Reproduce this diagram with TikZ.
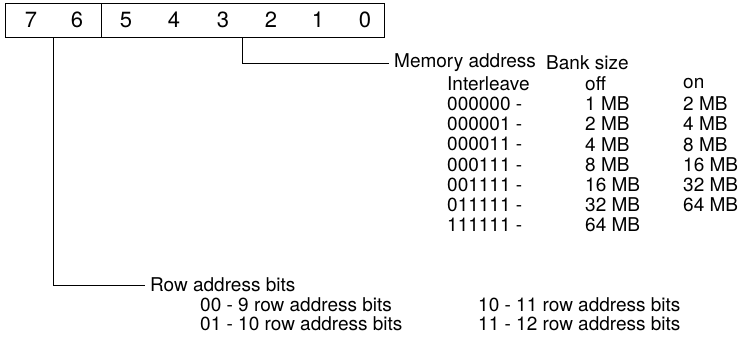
\documentclass[tikz,border=0pt]{standalone}
\usepackage{fontspec}
\setmainfont{TeX Gyre Heros}
\usepackage{tikz}
\usetikzlibrary{positioning,calc}
\tikzset{
  field/.style={draw, line width=1pt, minimum height=34pt, inner sep=0pt},
  bitno/.style={font=\fontsize{22}{22}\selectfont, inner sep=0pt},
  lbl/.style={anchor=west, font=\fontsize{19}{19}\selectfont, inner sep=0pt},
  lead/.style={line width=0.8pt},
}

\begin{document}
\begin{tikzpicture}[x=1pt, y=-1pt]
\useasboundingbox (0,0) rectangle (746,338);

% register: bits 7-6 and 5-0
\node[field, minimum width=96pt] (hi) at (53,20) {};
\node[field, minimum width=283pt] (lo) at (242.5,20) {};
\foreach \b/\x in {7/31, 6/77, 5/126, 4/174, 3/223, 2/271, 1/318, 0/365}
  \node[bitno] (b\b) at (\x,20) {\b};

% memory address field
\node[lbl] (mem) at (394,63) {Memory address};
\node[lbl] (bank) at (546,63) {Bank size};
\node[lbl] (ilv) at (447,83.5) {Interleave};
\node[lbl] (off) at (585,83.5) {off};
\node[lbl] (on) at (683,83.5) {on};
\foreach \il/\mboff/\mbon [count=\i] in {000000/1 MB/2 MB, 000001/2 MB/4 MB,
    000011/4 MB/8 MB, 000111/8 MB/16 MB, 001111/16 MB/32 MB, 011111/32 MB/64 MB} {
  \node[lbl] (il\i) at (447,83.5+20.25*\i) {\il{} -};
  \node[lbl] (off\i) at (585,83.5+20.25*\i) {\mboff};
  \node[lbl] (on\i) at (683,83.5+20.25*\i) {\mbon};
}
\node[lbl] (il7) at (447,225) {111111 -};
\node[lbl] (off7) at (585,225) {64 MB};
\draw[lead] (lo.south) |- ([xshift=-5pt]mem.west);

% row address field
\node[lbl] (row) at (150,285) {Row address bits};
\node[lbl] (ra0) at (200,305) {00 - 9 row address bits};
\node[lbl] (ra1) at (200,324) {01 - 10 row address bits};
\node[lbl] (ra2) at (478,305) {10 - 11 row address bits};
\node[lbl] (ra3) at (478,324) {11 - 12 row address bits};
\draw[lead] (hi.south) |- ([xshift=-5pt]row.west);
\end{tikzpicture}
\end{document}
